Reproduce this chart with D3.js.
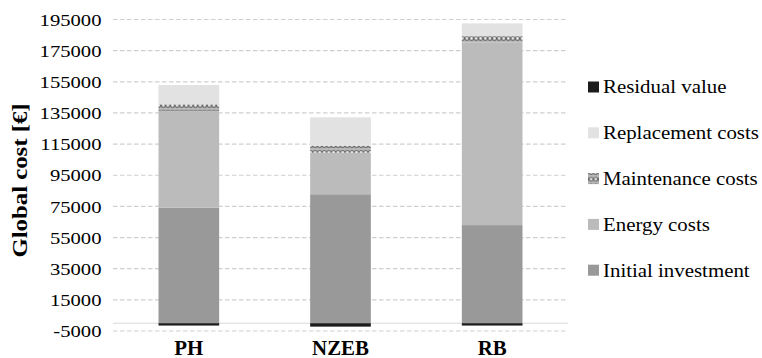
<!DOCTYPE html>
<html>
<head>
<meta charset="utf-8">
<script src="https://cdn.jsdelivr.net/npm/d3@7"></script>
<style>
  html, body { margin: 0; padding: 0; background: #fff; }
  svg { display: block; }
</style>
</head>
<body>
<svg id="chart" width="762" height="358"></svg>
<script>
// Global cost of the three building variants (EUR)
const categories = ["PH", "NZEB", "RB"];
const initialInvestment = [74200, 82800, 63000];
const energyCosts = [62000, 26700, 117300];
const maintenanceCosts = [4300, 4500, 4000];
const replacementCosts = [12400, 18200, 8200];
const residualValue = [-1500, -2200, -1500];

const seriesNames = ["Initial investment", "Energy costs", "Maintenance costs", "Replacement costs", "Residual value"];
const seriesValues = [initialInvestment, energyCosts, maintenanceCosts, replacementCosts, residualValue];
const yTicks = [-5000, 15000, 35000, 55000, 75000, 95000, 115000, 135000, 155000, 175000, 195000];
const yTitle = "Global cost [€]";

const serif = "Liberation Serif";

const fills = {
  "Initial investment": "#999999",
  "Energy costs": "#bbbbbb",
  "Maintenance costs": "url(#maintPattern)",
  "Replacement costs": "#e2e2e2",
  "Residual value": "#1c1c1c"
};

const rows = categories.map((c, i) => {
  const r = { category: c };
  seriesNames.forEach((s, k) => { r[s] = seriesValues[k][i]; });
  return r;
});

const svg = d3.select("#chart");
const plot = { left: 113, right: 568, top: 19.5, bottom: 331 };

const x = d3.scaleBand().domain(categories).range([plot.left, plot.right]).paddingInner(0.6).paddingOuter(0.3);
const y = d3.scaleLinear().domain([-5000, 195000]).range([plot.bottom, plot.top]);

// ring pattern for the maintenance segment
const defs = svg.append("defs");
const pat = defs.append("pattern")
  .attr("id", "maintPattern").attr("patternUnits", "userSpaceOnUse")
  .attr("width", 4.6).attr("height", 6.7).attr("y", y(0) % 6.7);
pat.append("rect").attr("width", 4.6).attr("height", 6.7).attr("fill", "#b9b9b9");
pat.append("circle").attr("cx", 2.3).attr("cy", 3.35).attr("r", 1.9)
  .attr("fill", "#e4e4e4").attr("stroke", "#666666").attr("stroke-width", 1);

// dashed gridlines
svg.append("g").selectAll("line").data(yTicks).join("line")
  .attr("x1", plot.left).attr("x2", plot.right)
  .attr("y1", d => y(d)).attr("y2", d => y(d))
  .attr("stroke", "#cfcfcf").attr("stroke-width", 1.2)
  .attr("stroke-dasharray", "4.5,2.5");

// category baseline at zero
svg.append("line")
  .attr("x1", plot.left).attr("x2", plot.right)
  .attr("y1", y(0)).attr("y2", y(0))
  .attr("stroke", "#d9d9d9").attr("stroke-width", 1);

// stacked bars (negative residual value stacks below zero)
const stack = d3.stack().keys(seriesNames).offset(d3.stackOffsetDiverging);
const layers = stack(rows);

svg.append("g").selectAll("g").data(layers).join("g")
  .attr("fill", d => fills[d.key])
  .selectAll("rect").data(d => d).join("rect")
  .attr("x", d => x(d.data.category))
  .attr("width", x.bandwidth())
  .attr("y", d => y(Math.max(d[0], d[1])))
  .attr("height", d => Math.abs(y(d[0]) - y(d[1])));

// y tick labels
const tickG = svg.append("g");
yTicks.forEach(t => {
  tickG.append("text")
    .attr("transform", `translate(101.5,${y(t)}) scale(1.18,1)`)
    .attr("text-anchor", "end").attr("dy", "0.35em")
    .style("font-family", serif).style("font-size", "17.5px")
    .text(t);
});

// y axis title
svg.append("text")
  .attr("transform", "translate(20,180.5) rotate(-90) scale(1.18,1)")
  .attr("text-anchor", "middle").attr("dy", "0.35em")
  .style("font-family", serif).style("font-size", "21px").style("font-weight", "bold")
  .text(yTitle);

// category labels
categories.forEach(c => {
  svg.append("text")
    .attr("transform", `translate(${x(c) + x.bandwidth() / 2},355) scale(1.045,1)`)
    .attr("text-anchor", "middle")
    .style("font-family", serif).style("font-size", "20px").style("font-weight", "bold")
    .text(c);
});

// legend (reverse series order)
const legendNames = seriesNames.slice().reverse();
const legend = svg.append("g");
legendNames.forEach((name, i) => {
  const cy = 87 + i * 45.8;
  legend.append("rect")
    .attr("x", 588).attr("y", cy - 5.5).attr("width", 11).attr("height", 11)
    .attr("fill", fills[name]);
  legend.append("text")
    .attr("transform", `translate(603,${cy}) scale(1.16,1)`)
    .attr("dy", "0.35em")
    .style("font-family", serif).style("font-size", "18px")
    .text(name);
});
</script>
</body>
</html>
